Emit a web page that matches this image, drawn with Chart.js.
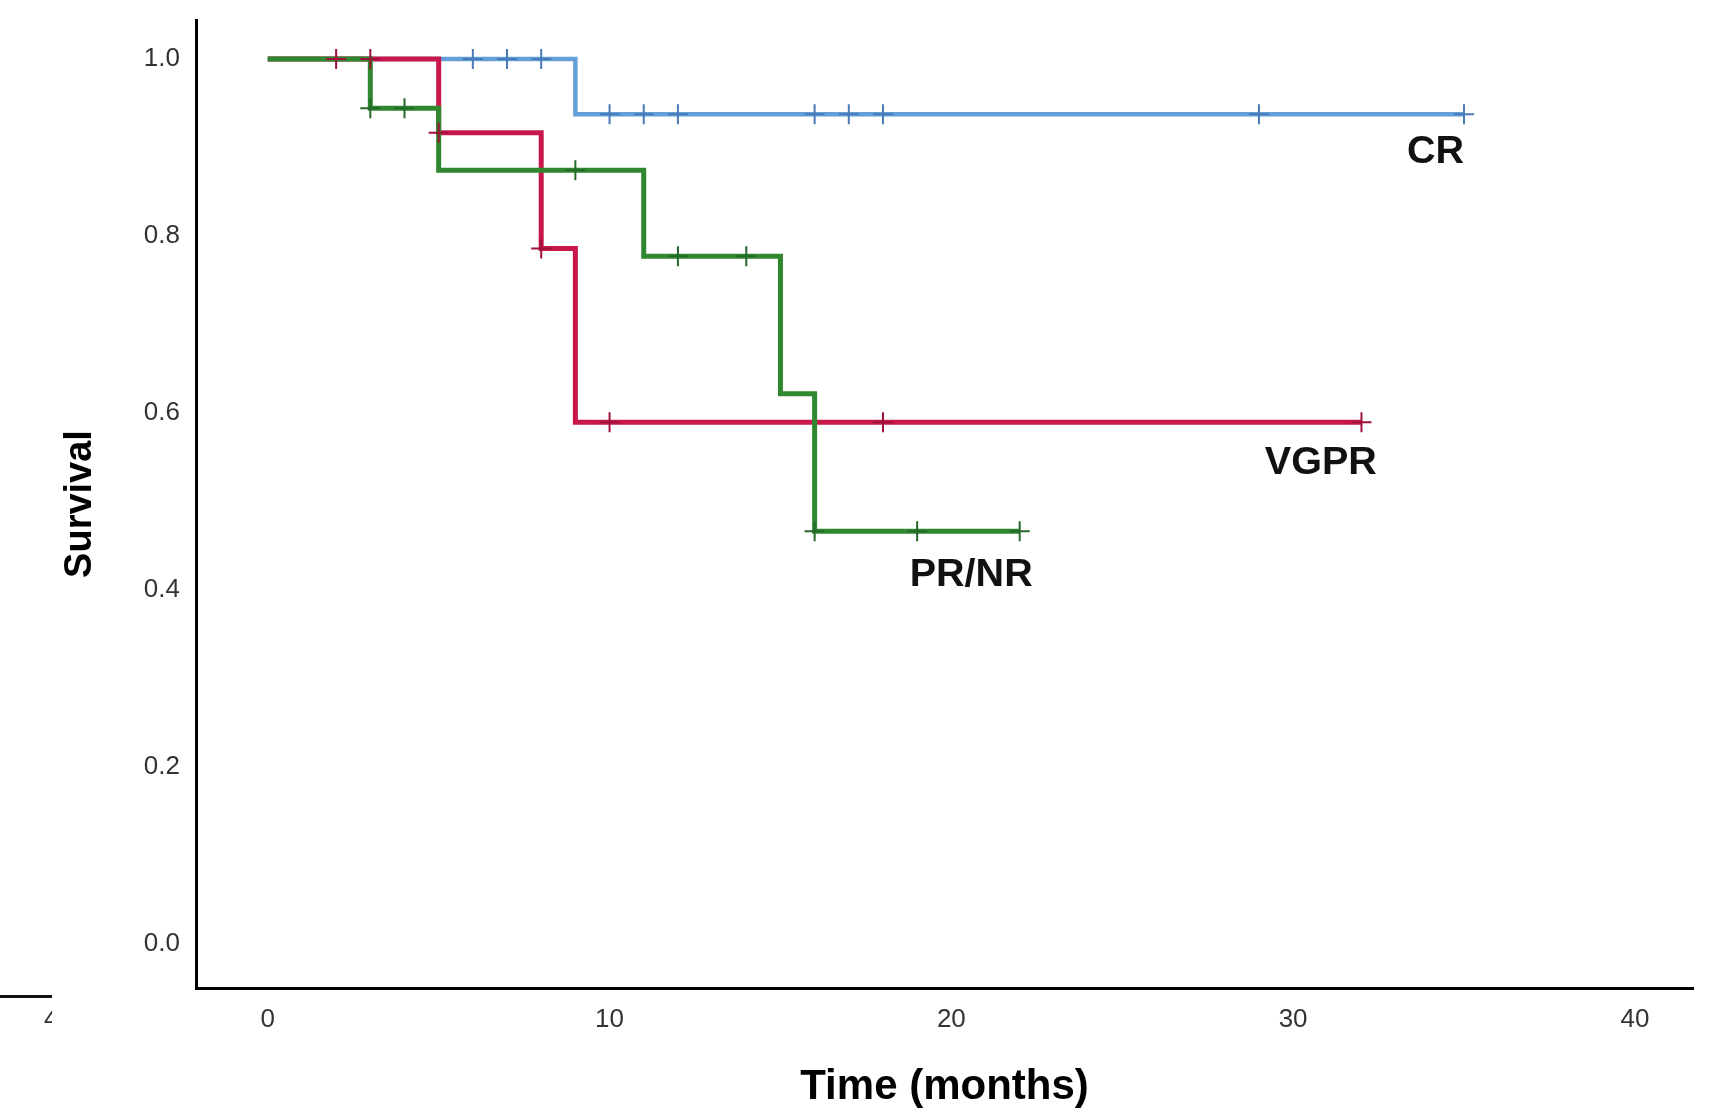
<!DOCTYPE html>
<html>
<head>
<meta charset="utf-8">
<script src="https://cdn.jsdelivr.net/npm/chart.js@4.4.1/dist/chart.umd.min.js"></script>
<style>
    html, body { margin: 0; padding: 0; background: #fff; }
    #wrap { width: 1735px; height: 1113px; position: relative; }
</style>
</head>
<body>
<div id="wrap"><canvas id="kmChart"></canvas></div>
<script>
// ============================================
// KAPLAN-MEIER DATA
// ============================================

const xTicks = [0, 10, 20, 30, 40];
const yTicks = [0.0, 0.2, 0.4, 0.6, 0.8, 1.0];
const groupNames = ['CR', 'VGPR', 'PR/NR'];

// CR
const crTimes = [0, 9, 35];
const crSurv = [1.0, 0.9375, 0.9375];
const crCensorTimes = [6, 7, 8, 10, 11, 12, 16, 17, 18, 29, 35];
const crCensorSurv = [1.0, 1.0, 1.0, 0.9375, 0.9375, 0.9375, 0.9375, 0.9375, 0.9375, 0.9375, 0.9375];

// VGPR
const vgprTimes = [0, 5, 8, 9, 32];
const vgprSurv = [1.0, 0.9167, 0.7857, 0.5893, 0.5893];
const vgprCensorTimes = [2, 3, 5, 8, 10, 18, 32];
const vgprCensorSurv = [1.0, 1.0, 0.9167, 0.7857, 0.5893, 0.5893, 0.5893];

// PR/NR
const prTimes = [0, 3, 5, 11, 15, 16, 22];
const prSurv = [1.0, 0.9444, 0.8743, 0.7771, 0.6217, 0.4663, 0.4663];
const prCensorTimes = [3, 4, 9, 12, 14, 16, 19, 22];
const prCensorSurv = [0.9444, 0.9444, 0.8743, 0.7771, 0.7771, 0.4663, 0.4663, 0.4663];

const toPoints = (xs, ys) => xs.map((x, i) => ({ x: x, y: ys[i] }));

function stepSet(label, xs, ys, color, width, order) {
    return {
        label: label,
        data: toPoints(xs, ys),
        borderColor: color,
        borderWidth: width,
        stepped: 'before',
        pointRadius: 0,
        fill: false,
        order: order
    };
}

function censorSet(label, xs, ys, color) {
    return {
        label: label + ' censored',
        data: toPoints(xs, ys),
        showLine: false,
        pointStyle: 'cross',
        pointRadius: 10,
        pointBorderWidth: 2,
        pointBorderColor: color,
        pointBackgroundColor: color,
        order: 0
    };
}

// group names next to the curves
const curveLabels = {
    id: 'curveLabels',
    afterDatasetsDraw(chart) {
        const { ctx, scales } = chart;
        const spots = [[35.0, 0.897], [32.45, 0.545], [22.38, 0.419]];
        ctx.save();
        ctx.font = 'bold 38px "Liberation Sans", Arial, sans-serif';
        ctx.fillStyle = '#111';
        ctx.textAlign = 'right';
        ctx.textBaseline = 'middle';
        groupNames.forEach((name, i) => {
            ctx.save();
            ctx.translate(scales.x.getPixelForValue(spots[i][0]), scales.y.getPixelForValue(spots[i][1]));
            ctx.scale(1.04, 1);
            ctx.fillText(name, 0, 2);
            ctx.restore();
        });
        ctx.restore();
    }
};

// leftover of a neighbouring panel at the bottom-left edge of the figure
const edgeScrap = {
    id: 'edgeScrap',
    afterDraw(chart) {
        const ctx = chart.ctx;
        ctx.save();
        ctx.strokeStyle = '#111';
        ctx.lineWidth = 3;
        ctx.beginPath();
        ctx.moveTo(0, 996.5);
        ctx.lineTo(52, 996.5);
        ctx.stroke();
        ctx.beginPath();
        ctx.rect(0, 1002, 52, 40);
        ctx.clip();
        ctx.font = '26px "Liberation Sans", Arial, sans-serif';
        ctx.fillStyle = '#333';
        ctx.textAlign = 'left';
        ctx.textBaseline = 'middle';
        ctx.fillText('4', 44, 1020);
        ctx.restore();
    }
};

const tickFont = { family: '"Liberation Sans", Arial, sans-serif', size: 26 };

new Chart(document.getElementById('kmChart'), {
    type: 'line',
    data: {
        datasets: [
            stepSet('CR', crTimes, crSurv, '#63a0da', 4.5, 3),
            stepSet('VGPR', vgprTimes, vgprSurv, '#c8184b', 5, 2),
            stepSet('PR/NR', prTimes, prSurv, '#2f882f', 5, 1),
            censorSet('CR', crCensorTimes, crCensorSurv, '#4a7ab8'),
            censorSet('VGPR', vgprCensorTimes, vgprCensorSurv, '#9e1039'),
            censorSet('PR/NR', prCensorTimes, prCensorSurv, '#25682a')
        ]
    },
    options: {
        responsive: true,
        maintainAspectRatio: false,
        animation: false,
        layout: { autoPadding: false, padding: { left: 0, right: 42, top: 20, bottom: 0 } },
        plugins: {
            legend: { display: false },
            tooltip: { enabled: false }
        },
        scales: {
            x: {
                type: 'linear',
                min: -2.1,
                max: 41.7,
                afterBuildTicks: (scale) => { scale.ticks = xTicks.map(v => ({ value: v })); },
                afterFit: (scale) => {
                    scale.height = 125;
                    scale.paddingLeft = 0;
                    scale.paddingRight = 0;
                },
                grid: { display: false, drawTicks: false },
                border: { display: true, color: '#000', width: 3 },
                ticks: { font: tickFont, color: '#333', padding: 16, maxRotation: 0 },
                title: {
                    display: true,
                    text: 'Time (months)',
                    font: { family: '"Liberation Sans", Arial, sans-serif', size: 42, weight: 'bold' },
                    color: '#000',
                    padding: { top: 0, bottom: 0 }
                }
            },
            y: {
                type: 'linear',
                min: -0.05,
                max: 1.044,
                afterBuildTicks: (scale) => { scale.ticks = yTicks.map(v => ({ value: v })); },
                afterFit: (scale) => {
                    scale.width = 196;
                    scale.paddingTop = 0;
                    scale.paddingBottom = 0;
                },
                grid: { display: false, drawTicks: false },
                border: { display: true, color: '#000', width: 3 },
                ticks: { font: tickFont, color: '#333', padding: 16, callback: (v) => v.toFixed(1) },
                title: {
                    display: true,
                    text: 'Survival',
                    font: { family: '"Liberation Sans", Arial, sans-serif', size: 38, weight: 'bold' },
                    color: '#000',
                    padding: { top: 58, bottom: 0 }
                }
            }
        }
    },
    plugins: [curveLabels, edgeScrap]
});
</script>
</body>
</html>
